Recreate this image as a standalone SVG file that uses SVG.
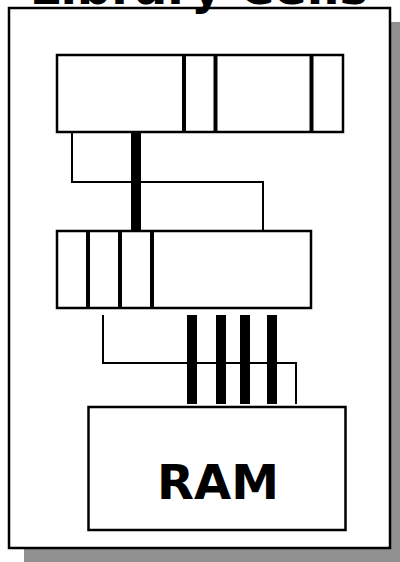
<svg xmlns="http://www.w3.org/2000/svg" width="400" height="562" viewBox="0 0 400 562">
<style>
.box{fill:#fff;stroke:#000;stroke-width:2.5}
.div{stroke:#000;stroke-width:4}
.wire{fill:none;stroke:#000;stroke-width:2}
.bus{stroke:#000;stroke-width:10}
.t{font-family:"DejaVu Sans",Verdana,sans-serif;font-weight:bold;fill:#000;text-anchor:middle}
</style>
<rect x="0" y="0" width="400" height="562" fill="#fff"/>
<rect id="shadow" x="24" y="22" width="400" height="560" fill="#909090"/>
<g id="frame">
<rect x="9" y="8" width="381" height="540" fill="#fff" stroke="#000" stroke-width="2.5"/>
</g>
<text class="t" x="199" y="4" font-size="48">Library Cells</text>
<g id="connectors">
<polyline class="wire" points="72,132 72,182 263,182 263,231"/>
<line class="bus" x1="136" y1="132" x2="136" y2="231"/>
<polyline class="wire" points="103,315 103,363 296,363 296,404"/>
<line class="bus" x1="192" y1="315" x2="192" y2="404"/>
<line class="bus" x1="221" y1="315" x2="221" y2="404"/>
<line class="bus" x1="245" y1="315" x2="245" y2="404"/>
<line class="bus" x1="272" y1="315" x2="272" y2="404"/>
</g>
<g id="cells-top">
<rect class="box" x="57" y="55" width="286" height="77"/>
<line class="div" x1="184" y1="55" x2="184" y2="132"/>
<line class="div" x1="215.5" y1="55" x2="215.5" y2="132"/>
<line class="div" x1="311.5" y1="55" x2="311.5" y2="132"/>
</g>
<g id="cells-middle">
<rect class="box" x="57" y="231" width="254" height="77"/>
<line class="div" x1="88" y1="231" x2="88" y2="308"/>
<line class="div" x1="120" y1="231" x2="120" y2="308"/>
<line class="div" x1="152" y1="231" x2="152" y2="308"/>
</g>
<g id="ram">
<rect class="box" x="88.5" y="407" width="257" height="123"/>
<text class="t" x="218" y="499" font-size="48">RAM</text>
</g>
</svg>
